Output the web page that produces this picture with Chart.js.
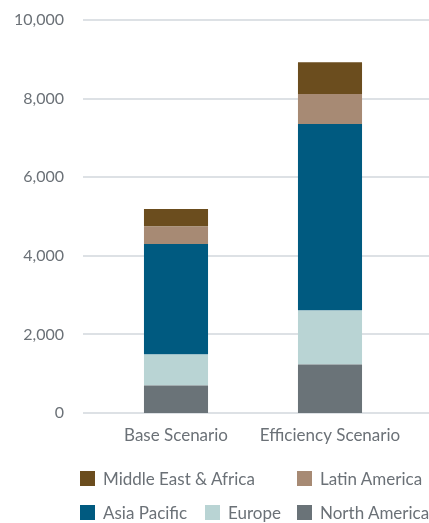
<!DOCTYPE html>
<html lang="en">
<head>
    <meta charset="UTF-8">
    <title>Scenarios by region</title>
    <script src="https://cdn.jsdelivr.net/npm/chart.js@4.4.1/dist/chart.umd.min.js"></script>
    <style>
        html, body { margin: 0; padding: 0; background: #fff; }
        #wrap { position: relative; width: 429px; height: 523px; }
        #legend {
            position: absolute; left: 80px; top: 461px;
            display: grid; grid-template-columns: 125px 92px auto;
            grid-auto-rows: 34px;
            font-family: Lato, "Open Sans", sans-serif; font-size: 17px; color: #6b7177;
        }
        .item { display: flex; align-items: center; white-space: nowrap; }
        .box { width: 15px; height: 15px; margin-right: 8px; flex: none; }
    </style>
</head>
<body>
<div id="wrap">
    <canvas id="myChart" width="429" height="523"></canvas>
    <div id="legend"></div>
</div>

<script>
    var scenarios = ["Base Scenario", "Efficiency Scenario"];

    var northAmerica = [700, 1235];
    var europe = [790, 1372];
    var asiaPacific = [2813, 4745];
    var latinAmerica = [440, 762];
    var middleEastAfrica = [450, 814];

    var yTicks = [0, 2000, 4000, 6000, 8000, 10000];

    var textColor = "#6b7177";
    var gridColor = "#dde1e5";

    // bottom of the stack first
    var series = [
        { label: "North America", data: northAmerica, color: "#6a7378" },
        { label: "Europe", data: europe, color: "#b9d4d4" },
        { label: "Asia Pacific", data: asiaPacific, color: "#005a80" },
        { label: "Latin America", data: latinAmerica, color: "#a78a74" },
        { label: "Middle East & Africa", data: middleEastAfrica, color: "#6b4d1e" }
    ];

    // gridlines run wider than the plot area in the original
    var wideGrid = {
        id: "wideGrid",
        beforeDatasetsDraw: function (chart) {
            var c = chart.ctx;
            var y = chart.scales.y;
            c.save();
            c.strokeStyle = gridColor;
            c.lineWidth = 2;
            yTicks.forEach(function (v) {
                var py = Math.round(y.getPixelForValue(v));
                c.beginPath();
                c.moveTo(83, py);
                c.lineTo(429, py);
                c.stroke();
            });
            c.restore();
        }
    };

    var ctx = document.getElementById("myChart");

    var chart = new Chart(ctx, {
        type: "bar",
        data: {
            labels: scenarios,
            datasets: series.map(function (s) {
                return {
                    label: s.label,
                    data: s.data,
                    backgroundColor: s.color,
                    borderWidth: 0,
                    categoryPercentage: 1,
                    barPercentage: 0.416
                };
            })
        },
        options: {
            responsive: false,
            animation: false,
            layout: { padding: { left: 0, right: 22, top: 20, bottom: 70 } },
            plugins: {
                legend: { display: false },
                tooltip: { enabled: false }
            },
            scales: {
                x: {
                    stacked: true,
                    grid: { display: false, drawTicks: false },
                    border: { display: false },
                    ticks: {
                        color: textColor, padding: 12,
                        font: { family: "Lato, 'Open Sans', sans-serif", size: 17 }
                    },
                    afterFit: function (s) { s.height = 40; }
                },
                y: {
                    stacked: true,
                    min: 0, max: 10000,
                    grid: { display: false, drawTicks: false },
                    border: { display: false },
                    afterFit: function (s) {
                        s.width = 99;
                        s.paddingTop = 0;
                        s.paddingBottom = 0;
                    },
                    afterBuildTicks: function (s) {
                        s.ticks = yTicks.map(function (v) { return { value: v }; });
                    },
                    ticks: {
                        color: textColor, padding: 35,
                        font: { family: "Lato, 'Open Sans', sans-serif", size: 16 },
                        callback: function (v) { return v.toLocaleString("en-US"); }
                    }
                }
            }
        },
        plugins: [wideGrid]
    });

    // legend, top of the stack first
    var legend = document.getElementById("legend");
    series.slice().reverse().forEach(function (s, i) {
        var item = document.createElement("div");
        item.className = "item";
        if (i === 0) item.style.gridColumn = "1 / 3";
        var box = document.createElement("span");
        box.className = "box";
        box.style.background = s.color;
        var txt = document.createElement("span");
        txt.textContent = s.label;
        item.appendChild(box);
        item.appendChild(txt);
        legend.appendChild(item);
    });
</script>
</body>
</html>
